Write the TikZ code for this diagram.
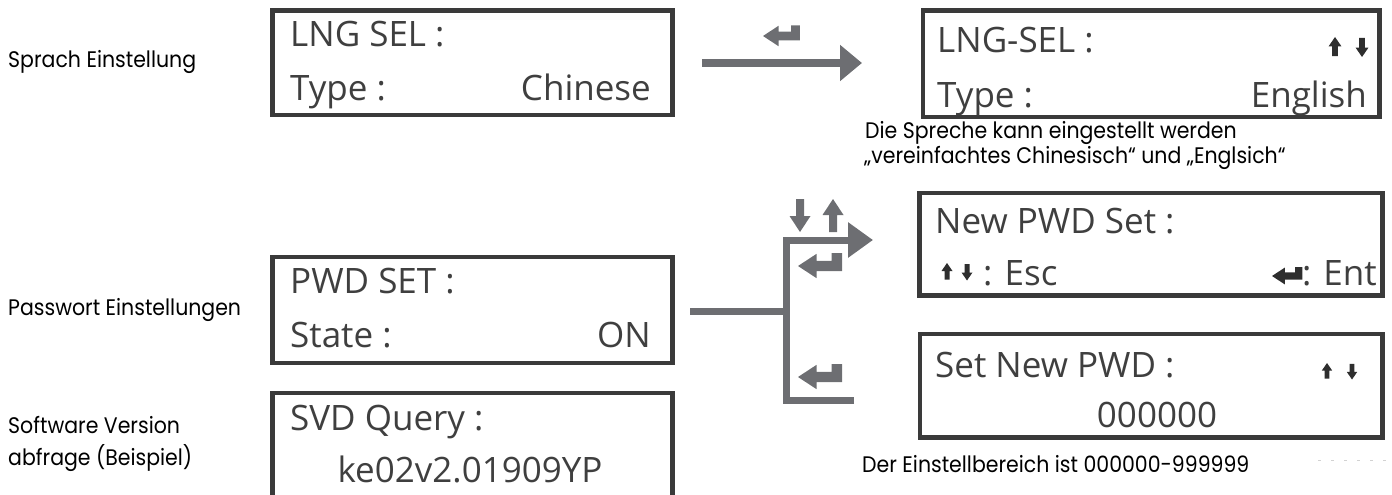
\documentclass[tikz,border=0pt]{standalone}
\usepackage{fontspec}
\setmainfont{Open Sans}
\newfontfamily\labfont[FakeStretch=0.91]{Poppins}
\usetikzlibrary{arrows.meta}
\definecolor{boxc}{HTML}{3A3A3A}
\definecolor{arrc}{HTML}{6D6E72}
\definecolor{txtc}{HTML}{3F3F3F}
\definecolor{glyc}{HTML}{2E2E2E}
\begin{document}
\begin{tikzpicture}[x=1pt,y=-1pt,
  lcd/.style={draw=boxc, line width=4.5pt, inner sep=0pt},
  lcdtxt/.style={inner sep=0pt, text=txtc, font=\fontsize{35}{40}\selectfont},
  lab/.style={inner sep=0pt, anchor=base west, font=\labfont\fontsize{22.5}{26}\selectfont},
  conn/.style={draw=arrc, line width=7pt},
  pics/enterg/.style={code={\fill (0,0) -- (16,-10.5) -- (16,-4.5) -- (29,-4.5) -- (29,-11) -- (38,-11) -- (38,4.5) -- (16,4.5) -- (16,10.5) -- cycle;}},
  pics/uparr/.style={code={\fill (0,0) -- (10.5,16) -- (4,16) -- (4,33) -- (-4,33) -- (-4,16) -- (-10.5,16) -- cycle;}},
  pics/uparrs/.style={code={\fill (0,0) -- (11,16) -- (5,16) -- (5,33) -- (-5,33) -- (-5,16) -- (-11,16) -- cycle;}}
]
\useasboundingbox (0,0) rectangle (1392,495);

% left labels
\node[lab] (l1) at (8,67) {Sprach Einstellung};
\node[lab] (l2) at (8,315) {Passwort Einstellungen};
\node[lab] (l3) at (8,433) {Software Version};
\node[lab] (l4) at (8,465) {abfrage (Beispiel)};

% boxes
\node[lcd, minimum width=400pt, minimum height=104.5pt] (b1) at (472.5,62.75) {};
\node[lcd, minimum width=456.5pt, minimum height=106.5pt] (b2) at (1151.25,63.75) {};
\node[lcd, minimum width=400pt, minimum height=106pt] (b3) at (472.5,310) {};
\node[lcd, minimum width=400pt, minimum height=106pt] (b4) at (472.5,446) {};
\node[lcd, minimum width=463pt, minimum height=102.5pt] (b5) at (1151,244.25) {};
\node[lcd, minimum width=462.5pt, minimum height=103.5pt] (b6) at (1151.25,385.75) {};

% box texts
\node[lcdtxt, anchor=base west] (t1a) at (290,47) {LNG SEL :};
\node[lcdtxt, anchor=base west] (t1b) at (290,100) {Type :};
\node[lcdtxt, anchor=base east] (t1c) at (651,100) {Chinese};

\node[lcdtxt, anchor=base west] (t2a) at (937,53) {LNG-SEL :};
\node[lcdtxt, anchor=base west] (t2b) at (937,107) {Type :};
\node[lcdtxt, anchor=base east] (t2c) at (1367,107) {English};

\node[lcdtxt, anchor=base west] (t3a) at (290,293) {PWD SET :};
\node[lcdtxt, anchor=base west] (t3b) at (290,347) {State :};
\node[lcdtxt, anchor=base east] (t3c) at (651,347) {ON};

\node[lcdtxt, anchor=base west] (t4a) at (290,430) {SVD Query :};
\node[lcdtxt, anchor=base] (t4b) at (470,482) {ke02v2.01909YP};

\node[lcdtxt, anchor=base west] (t5a) at (935,233) {New PWD Set :};
\node[lcdtxt, anchor=base west] (t5b) at (983,285) {: Esc};
\node[lcdtxt, anchor=base east] (t5c) at (1377,285) {: Ent};

\node[lcdtxt, anchor=base west] (t6a) at (935,377) {Set New PWD :};
\node[lcdtxt, anchor=base] (t6b) at (1157,427) {000000};

% notes
\node[lab] (n1) at (865,138) {Die Spreche kann eingestellt werden};
\node[lab] (n2) at (864,163) {„vereinfachtes Chinesisch“ und „Englsich“};
\node[lab] (n3) at (862,472) {Der Einstellbereich ist 000000-999999};

% glyphs inside boxes
\pic[fill=glyc, scale=0.58] (g2u) at (1335,37) {uparrs};
\pic[fill=glyc, scale=0.58, rotate=180] (g2d) at (1362,57) {uparrs};
\pic[fill=glyc, scale=0.5] (g5u) at (947,263) {uparrs};
\pic[fill=glyc, scale=0.5, rotate=180] (g5d) at (967,280.5) {uparrs};
\pic[fill=glyc, scale=0.8] (g5e) at (1272,276) {enterg};
\pic[fill=glyc, scale=0.47] (g6u) at (1327,363) {uparrs};
\pic[fill=glyc, scale=0.47, rotate=180] (g6d) at (1352,379.5) {uparrs};

% top connector
\coordinate (a1s) at (702,63);
\coordinate (a1e) at (862,63);
\draw[conn, line width=8pt, -{Triangle[length=22pt,width=35pt]}] (a1s) -- (a1e);
\pic[fill=arrc, scale=0.97] (e0) at (763,36) {enterg};

% branch connector
\coordinate (c0) at (690,311);
\coordinate (c1) at (786,311);
\coordinate (ct) at (786,240);
\coordinate (cb) at (786,400);
\coordinate (ctend) at (873,240);
\coordinate (cbend) at (854,400);
\draw[conn] (c0) -- (c1);
\draw[conn, line join=miter, -{Triangle[length=25pt,width=34pt]}] (cbend) -- (cb) -- (ct) -- (ctend);
\pic[fill=arrc] (ed) at (800,232) [rotate=180] {uparr};
\pic[fill=arrc] (eu) at (833,199) {uparr};
\pic[fill=arrc, scale=1.16] (e1) at (798,266) {enterg};
\pic[fill=arrc, scale=1.16] (e2) at (798,377) {enterg};

% faint dashes
\coordinate (d0) at (1318,460);
\coordinate (d1) at (1392,460);
\draw[gray!35, line width=1pt, dash pattern=on 3pt off 10pt] (d0) -- (d1);
\end{tikzpicture}
\end{document}
